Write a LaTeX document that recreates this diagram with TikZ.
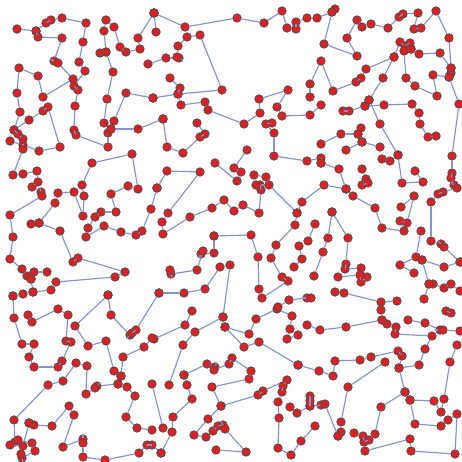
\documentclass[tikz,border=0pt]{standalone}
\definecolor{dotred}{RGB}{220,32,36}
\definecolor{dotline}{RGB}{85,75,75}
\definecolor{edgeblue}{RGB}{130,148,208}
\tikzset{
  dot/.style={circle,draw=dotline,fill=dotred,line width=0.8pt,minimum size=8.4pt,inner sep=0pt},
  edge/.style={draw=edgeblue,line width=1.15pt}
}
\newcommand\chain[2]{%
  \foreach \x/\y [count=\i] in {#2}{%
    \node[dot] (#1-\i) at (\x,\y) {};
    \ifnum\i>1
      \pgfmathtruncatemacro\j{\i-1}
      \draw[edge] (#1-\j) -- (#1-\i);
    \fi
  }%
}
\begin{document}
\begin{tikzpicture}[x=1pt,y=-1pt]
\fill[white] (0,0) rectangle (462,462);
\useasboundingbox (0,0) rectangle (462,462);
\chain{k1}{17/29, 36/31, 46/23, 51/20, 62/18, 86/23, 83/42, 79/62, 85/71, 74/86, 78/90, 75/106, 74/130, 76/135, 108/147, 108/133, 111/129, 138/129, 163/119}
\chain{k2}{36/31, 38/37, 62/38, 54/61, 58/63, 73/79, 43/97, 38/76, 19/68, 17/93, 20/112, 14/130, 29/120, 43/111, 48/107, 60/147, 39/151, 23/145, 10/141}
\chain{k3}{14/130, 18/134, 23/139, 23/149, 13/175, 23/174, 37/171, 38/182, 32/187, 41/192, 42/196, 10/215, 13/237, 10/259, 22/269, 27/276, 31/279, 34/272, 47/272}
\chain{k4}{100/53, 106/52}
\chain{k5}{154/13, 138/38, 140/49, 126/52, 120/47, 114/27, 106/20, 104/31, 106/52, 113/72, 107/99, 104/123, 111/129}
\chain{k6}{114/121, 126/93, 153/98}
\chain{k7}{148/64, 166/58, 179/58, 177/57, 178/46, 187/37, 200/35, 222/90, 178/94, 153/98}
\chain{k8}{154/13, 185/27, 237/18, 264/23, 282/11, 287/28, 296/29, 296/22, 307/18, 317/18, 332/12, 335/9}
\chain{k9}{154/13, 156/32}
\chain{k10}{170/78, 180/88, 178/94, 181/105, 205/102, 208/110, 244/124, 260/113, 259/99, 288/90, 277/107, 282/116, 310/115, 321/105}
\chain{k11}{163/119, 167/147, 183/153, 200/137, 205/134, 197/123}
\chain{k12}{272/123, 266/124, 274/133, 274/156, 307/161, 321/158, 321/163}
\chain{k13}{332/12, 324/44, 357/56, 347/38, 357/20, 362/27, 371/24, 388/28, 399/17, 403/14, 418/13, 414/29, 421/28, 436/11, 449/38, 451/68, 451/73, 449/77, 459/104, 452/156, 452/173, 451/178, 454/185, 457/188, 443/192, 438/194, 431/202, 431/241, 441/244, 444/247, 460/262}
\chain{k14}{394/57, 400/42, 405/46, 410/43, 411/49, 404/51, 406/78, 415/86, 437/96, 433/75, 449/77}
\chain{k15}{411/49, 419/54, 440/53, 451/68}
\chain{k16}{310/97, 310/84, 321/61, 333/91, 356/82, 361/78, 366/69, 394/57, 383/78, 369/100, 365/106, 349/111, 343/111}
\chain{k17}{365/106, 384/105, 412/104, 419/113, 420/124, 428/137, 436/136}
\chain{k18}{369/100, 380/124, 398/155, 402/183, 423/182, 415/171}
\chain{k19}{382/159, 390/161, 398/155}
\chain{k20}{321/144, 341/134, 358/134, 361/128}
\chain{k21}{358/134, 362/142, 346/150}
\chain{k22}{362/142, 380/147}
\chain{k23}{33/292, 51/290, 56/282, 115/277, 125/272, 78/258, 73/262, 60/231, 39/223, 31/224}
\chain{k24}{39/223, 55/203, 58/193, 74/192, 83/216, 84/196, 82/185, 92/163, 132/154, 138/189, 128/186, 111/194, 116/212, 101/212, 95/217, 88/228, 86/237, 104/226, 121/232, 136/235, 142/231, 151/209, 157/188}
\chain{k25}{13/296, 23/294, 33/292, 31/279}
\chain{k26}{108/295, 111/315, 130/335, 132/333, 136/330, 159/293}
\chain{k27}{159/293, 184/293, 205/289, 220/267, 230/265, 223/317, 225/327, 249/334, 256/319, 277/309, 292/316, 290/329, 287/339, 298/335}
\chain{k28}{223/317, 195/332, 183/345, 169/385}
\chain{k29}{192/311, 185/325, 154/339}
\chain{k30}{225/327, 244/347, 259/342, 298/365}
\chain{k31}{157/188, 167/171, 200/172, 168/213, 162/222, 163/234, 190/217, 212/208, 224/200, 234/211, 243/205, 259/213, 261/190, 260/185, 256/185, 254/175, 266/177, 269/185, 297/213, 302/202, 324/185, 346/189, 353/196, 375/208, 382/228, 404/231, 400/221, 407/223, 414/196, 401/207}
\chain{k32}{215/163, 237/181, 241/172, 234/168, 247/150}
\chain{k33}{214/236, 251/235, 258/257, 259/289, 262/298, 288/281, 282/277, 271/258, 276/245, 295/225, 297/213}
\chain{k34}{214/236, 214/253, 201/254, 203/251, 197/270, 171/274, 170/270}
\chain{k35}{278/307, 289/300, 307/298, 311/298}
\chain{k36}{299/246, 302/259, 294/267}
\chain{k37}{321/163, 339/169, 346/189}
\chain{k38}{362/169, 366/179, 362/185, 368/183}
\chain{k39}{421/231, 416/257, 400/265, 414/273}
\chain{k40}{422/260, 444/267, 460/262}
\chain{k41}{422/260, 429/284, 433/284, 444/288, 451/284, 460/291}
\chain{k42}{424/299, 429/284}
\chain{k43}{332/212, 328/238, 323/252, 314/276}
\chain{k44}{332/212, 348/238, 346/264, 345/269, 361/268, 367/277, 361/282, 360/275, 338/277}
\chain{k45}{315/224, 308/241}
\chain{k46}{335/292, 344/293, 381/302, 397/301}
\chain{k47}{28/315, 32/322, 58/309, 68/315, 66/341, 71/342, 62/361, 58/367, 34/367, 29/357, 34/344, 22/344, 14/318, 13/296}
\chain{k48}{108/295, 75/326, 88/346, 106/341, 114/371, 121/376, 118/384, 97/386, 95/388, 86/394, 87/366, 76/363, 63/381, 48/385, 14/420, 15/442}
\chain{k49}{121/376, 123/357, 144/347, 152/338}
\chain{k50}{118/384, 127/387, 135/396, 126/417, 137/428, 152/430}
\chain{k51}{29/423, 34/425, 52/426, 69/406, 74/415, 63/447, 83/439, 83/443, 83/457, 105/460, 139/453, 147/445, 152/445, 161/453}
\chain{k52}{29/423, 23/446, 10/445, 18/440, 32/443, 35/451, 22/458, 21/454}
\chain{k53}{184/375, 207/364, 215/367, 214/370, 229/364, 232/358, 251/371, 249/379, 212/387, 221/406, 258/395, 263/391, 287/380, 283/386, 282/392, 278/402, 279/418, 278/448, 291/455, 301/441, 315/426}
\chain{k54}{184/375, 187/385, 192/399, 173/417, 172/432, 161/453}
\chain{k55}{152/384, 163/428}
\chain{k56}{221/406, 208/419, 194/435, 206/437, 213/431, 218/426, 223/425, 225/429, 246/452, 216/450}
\chain{k57}{290/407, 297/413, 310/406}
\chain{k58}{298/365, 319/371, 333/376, 335/361, 360/360, 371/357, 398/351, 402/356, 399/368, 419/365, 425/349, 432/336, 395/334, 396/327, 387/324, 382/320, 346/327, 320/330, 307/325}
\chain{k59}{381/310, 382/320}
\chain{k60}{408/320, 425/323, 440/330, 443/330, 460/331}
\chain{k61}{446/311, 451/313}
\chain{k62}{385/362, 348/387, 341/422, 341/432, 338/436}
\chain{k63}{399/368, 405/392, 410/400, 434/401, 441/412, 444/399, 450/362, 457/345}
\chain{k64}{405/392, 381/407, 375/434, 369/440, 364/442, 363/436, 354/433}
\chain{k65}{410/400, 415/424, 441/426, 448/420, 457/414, 455/454, 411/451, 410/439, 365/451}
\chain{k66}{310/396, 310/401, 310/406, 321/405, 325/404, 338/436}
\end{tikzpicture}
\end{document}
